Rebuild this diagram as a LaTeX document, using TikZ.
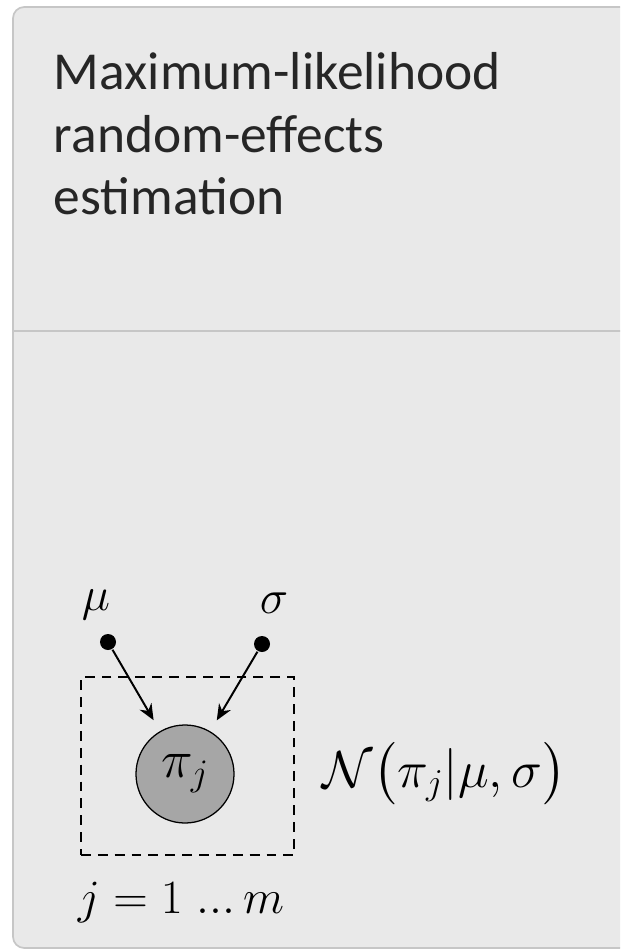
\RequirePackage{fix-cm}
\documentclass[tikz,border=0pt]{standalone}
\usepackage{amsmath,amssymb}
\usepackage{fontspec}
\setmainfont{Carlito}
\usepackage{tikz}
\usetikzlibrary{arrows.meta,positioning,calc}
\definecolor{panelfill}{HTML}{E9E9E9}
\definecolor{panelline}{HTML}{C6C6C6}
\definecolor{nodefill}{HTML}{A6A6A6}
\definecolor{txt}{HTML}{262626}

\begin{document}
\begin{tikzpicture}[x=0.025cm, y=-0.025cm, >={Stealth[length=4mm, width=3.4mm]}, line width=1.4pt,
  lbl/.style={font=\fontsize{34}{40}\selectfont, text=black, inner sep=0pt},
  latent/.style={draw, line width=0.9pt, circle, fill=nodefill, minimum size=2.45cm, inner sep=0pt, font=\fontsize{38}{40}\selectfont},
  param/.style={circle, fill, inner sep=0pt, minimum size=0.4cm},
  plate/.style={draw, dashed, dash pattern=on 7pt off 5pt, line width=1.2pt}]
\useasboundingbox (0,0) rectangle (620,951);
\clip (0,0) rectangle (620,951);
% panel
\draw[panelline, fill=panelfill, line width=1.2pt, rounded corners=8pt] (13,7) rectangle (660,948);
\draw[panelline, line width=1.2pt] (13,331) -- (660,331);
\node[lbl, font=\fontsize{38}{44.5}\selectfont, text=txt, align=left, anchor=base west] (title) at (53,215) {Maximum-likelihood\\random-effects\\estimation};
% model
\node[plate, minimum width=5.325cm, minimum height=4.45cm, inner sep=0pt] (box) at (187.5,766) {};
\node[latent] (pi) at (185,774) {$\pi_j$};
\node[param] (mu) at (108,642) {};
\node[param] (sigma) at (262,644) {};
\node[lbl, anchor=base] (mulbl) at (96,610) {$\mu$};
\node[lbl, anchor=base] (siglbl) at (274,613) {$\sigma$};
\draw[->, shorten >=9pt] (mu) -- (pi);
\draw[->, shorten >=9pt] (sigma) -- (pi);
\node[lbl, font=\fontsize{37}{40}\selectfont, anchor=base west] (dist) at (322,787) {$\mathcal{N}\bigl(\pi_j|\mu,\sigma\bigr)$};
\node[lbl, anchor=base west] (range) at (77,913) {$j=1\;...\,m$};
\end{tikzpicture}
\end{document}
